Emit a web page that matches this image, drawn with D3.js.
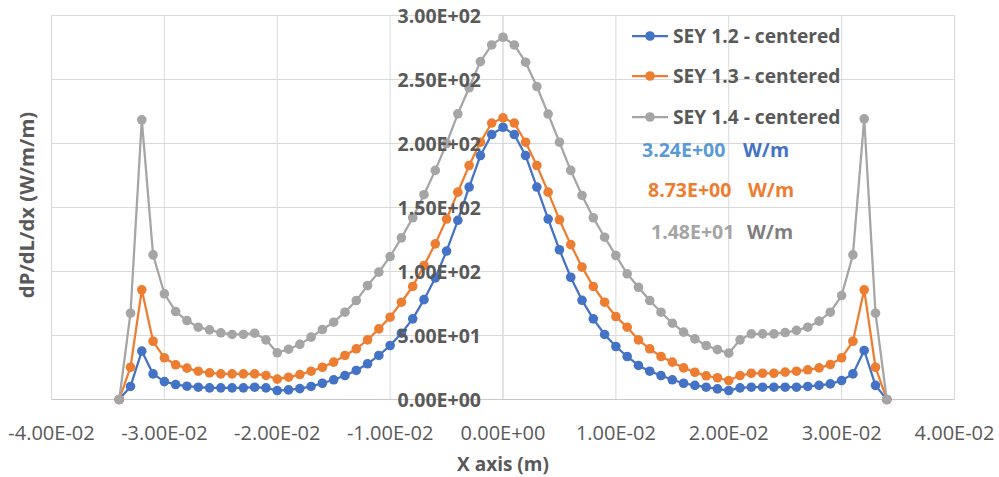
<!DOCTYPE html>
<html>
<head>
<meta charset="utf-8">
<script src="https://cdn.jsdelivr.net/npm/d3@7"></script>
<style>
  html, body { margin: 0; padding: 0; background: #ffffff; }
  svg { display: block; }
  text { font-family: "Open Sans", "Liberation Sans", sans-serif; }
</style>
</head>
<body>
<svg id="chart" width="999" height="477"></svg>
<script>
// ---------------- DATA ----------------
const xValues = [
  -0.034, -0.033, -0.032, -0.031, -0.030, -0.029, -0.028, -0.027, -0.026, -0.025,
  -0.024, -0.023, -0.022, -0.021, -0.020, -0.019, -0.018, -0.017, -0.016, -0.015,
  -0.014, -0.013, -0.012, -0.011, -0.010, -0.009, -0.008, -0.007, -0.006, -0.005,
  -0.004, -0.003, -0.002, -0.001, 0.000, 0.001, 0.002, 0.003, 0.004, 0.005,
  0.006, 0.007, 0.008, 0.009, 0.010, 0.011, 0.012, 0.013, 0.014, 0.015,
  0.016, 0.017, 0.018, 0.019, 0.020, 0.021, 0.022, 0.023, 0.024, 0.025,
  0.026, 0.027, 0.028, 0.029, 0.030, 0.031, 0.032, 0.033, 0.034
];

const sey12 = [
  0, 10.2, 37.8, 20, 14, 11.7, 10.4, 9.6, 9.1, 9.1,
  9.1, 9.1, 9.6, 9.1, 7, 7.5, 8.5, 10.2, 12.7, 15.4,
  18.7, 22.7, 27.9, 34.4, 42.2, 51.8, 63, 78, 95, 116,
  140, 166, 190.6, 207, 212.7, 207, 190.6, 166, 141, 117,
  95.5, 77.5, 63, 50.8, 41.4, 33.6, 26.6, 22.1, 18.7, 15.4,
  12.7, 11, 9.6, 8.3, 7, 9.1, 9.6, 9.6, 9.6, 9.6,
  9.6, 10.2, 11, 12.2, 14.8, 20, 38.3, 11, 0
];

const sey13 = [
  0, 25.2, 85.7, 45.5, 32.6, 27.1, 24.5, 22.1, 20.8, 20,
  20, 20, 20, 18.8, 15.9, 17.4, 19.5, 22.1, 25.2, 29.2,
  34.4, 39.6, 46.6, 55.2, 64.3, 76, 88.3, 104.7, 121.6, 141,
  162, 182.8, 201, 216, 220, 216, 201, 182.8, 162, 140.4,
  121, 103.4, 88.3, 76, 64.8, 56.5, 46.6, 39.6, 33.6, 29.2,
  24.7, 21.3, 18.5, 17, 14.8, 18.7, 20.5, 20.5, 20.5, 21.4,
  22.1, 23.2, 24.7, 27.3, 32.6, 45.5, 85.7, 25.2, 0
];

const sey14 = [
  0, 67.4, 218.5, 113, 82.6, 68.7, 61.7, 56.5, 54.4, 52.1,
  50.8, 50.8, 51.8, 46.6, 36.5, 39.3, 43.1, 48.7, 54.7, 60.4,
  68.2, 77.3, 89, 99.5, 111.7, 126.3, 142, 160, 179, 200,
  223.2, 243.5, 264, 277, 283, 277, 263.5, 244.5, 223, 201,
  179, 159.4, 142, 126.8, 112.5, 98.2, 87.7, 77.3, 68.2, 59.6,
  52.6, 47.4, 42.2, 39, 36.2, 46.6, 51.3, 51.3, 51.3, 52.3,
  54, 56.5, 61.2, 68.2, 81.2, 113, 219.3, 67.4, 0
];

const seriesNames = ["SEY 1.2 - centered", "SEY 1.3 - centered", "SEY 1.4 - centered"];
const seriesColors = ["#4472C4", "#ED7D31", "#A5A5A5"];

const xTicks = [-0.04, -0.03, -0.02, -0.01, 0, 0.01, 0.02, 0.03, 0.04];
const xTickLabels = ["-4.00E-02", "-3.00E-02", "-2.00E-02", "-1.00E-02", "0.00E+00",
                     "1.00E-02", "2.00E-02", "3.00E-02", "4.00E-02"];
const yTicks = [0, 50, 100, 150, 200, 250, 300];
const yTickLabels = ["0.00E+00", "5.00E+01", "1.00E+02", "1.50E+02", "2.00E+02", "2.50E+02", "3.00E+02"];

const annotValues = ["3.24E+00", "8.73E+00", "1.48E+01"];
const annotUnits = ["W/m", "W/m", "W/m"];
const annotValueColors = ["#5B9BD5", "#ED7D31", "#A5A5A5"];
const annotUnitColors = ["#4472C4", "#ED7D31", "#7F7F7F"];

const xTitle = "X axis (m)";
const yTitle = "dP/dL/dx (W/m/m)";

// ---------------- CHART ----------------
const svg = d3.select("#chart");
const x = d3.scaleLinear().domain([-0.04, 0.04]).range([51.5, 954.5]);
const y = d3.scaleLinear().domain([0, 300]).range([399.5, 15.5]);

const grid = svg.append("g");
grid.selectAll("line.v").data(xTicks).join("line")
  .attr("x1", d => x(d)).attr("x2", d => x(d))
  .attr("y1", y(300)).attr("y2", y(0))
  .attr("stroke", d => d === 0 ? "#C9C9C9" : "#D9D9D9").attr("stroke-width", 1);
grid.selectAll("line.h").data(yTicks).join("line")
  .attr("x1", x(-0.04)).attr("x2", x(0.04))
  .attr("y1", d => y(d)).attr("y2", d => y(d))
  .attr("stroke", d => d === 0 ? "#C9C9C9" : "#D9D9D9").attr("stroke-width", 1);

// series
const allSeries = [sey12, sey13, sey14];
const line = d3.line().x(d => x(d[0])).y(d => y(d[1]));
allSeries.forEach((vals, i) => {
  const pts = xValues.map((xv, j) => [xv, vals[j]]);
  const g = svg.append("g");
  g.append("path").datum(pts)
    .attr("d", line).attr("fill", "none")
    .attr("stroke", seriesColors[i]).attr("stroke-width", 2.25)
    .attr("stroke-linejoin", "round");
  g.selectAll("circle").data(pts).join("circle")
    .attr("cx", d => x(d[0])).attr("cy", d => y(d[1]))
    .attr("r", 4.8).attr("fill", seriesColors[i]);
});

// x tick labels
svg.append("g").selectAll("text").data(xTicks).join("text")
  .attr("x", d => x(d)).attr("y", 440)
  .attr("text-anchor", "middle")
  .attr("font-size", 20).attr("fill", "#595959")
  .text((d, i) => xTickLabels[i]);

// y tick labels (next to vertical axis at x = 0)
svg.append("g").selectAll("text").data(yTicks).join("text")
  .attr("x", x(0) - 22).attr("y", d => y(d) + 7)
  .attr("text-anchor", "end")
  .attr("font-size", 19.5).attr("font-weight", "bold").attr("fill", "#595959")
  .text((d, i) => yTickLabels[i]);

// axis titles
svg.append("text").attr("x", 503).attr("y", 471)
  .attr("text-anchor", "middle").attr("font-size", 19).attr("font-weight", "bold")
  .attr("fill", "#595959").text(xTitle);
svg.append("text").attr("transform", "translate(34,205) rotate(-90)")
  .attr("text-anchor", "middle").attr("font-size", 20.3).attr("font-weight", "bold")
  .attr("fill", "#595959").text(yTitle);

// legend
const legY = [36, 76, 117];
const leg = svg.append("g");
seriesNames.forEach((name, i) => {
  leg.append("line").attr("x1", 632).attr("x2", 668).attr("y1", legY[i]).attr("y2", legY[i])
    .attr("stroke", seriesColors[i]).attr("stroke-width", 2.25);
  leg.append("circle").attr("cx", 650).attr("cy", legY[i]).attr("r", 4.8).attr("fill", seriesColors[i]);
  leg.append("text").attr("x", 673).attr("y", legY[i] + 7)
    .attr("font-size", 19.2).attr("font-weight", "bold").attr("fill", "#595959").text(name);
});

// annotations
const annY = [150, 190, 232];
const annX = [642, 648, 651];
const annUX = [743, 748, 747];
annotValues.forEach((v, i) => {
  svg.append("text").attr("x", annX[i]).attr("y", annY[i] + 7)
    .attr("font-size", 19.5).attr("font-weight", "bold").attr("fill", annotValueColors[i]).text(v);
  svg.append("text").attr("x", annUX[i]).attr("y", annY[i] + 7)
    .attr("font-size", 19.5).attr("font-weight", "bold").attr("fill", annotUnitColors[i]).text(annotUnits[i]);
});
</script>
</body>
</html>
